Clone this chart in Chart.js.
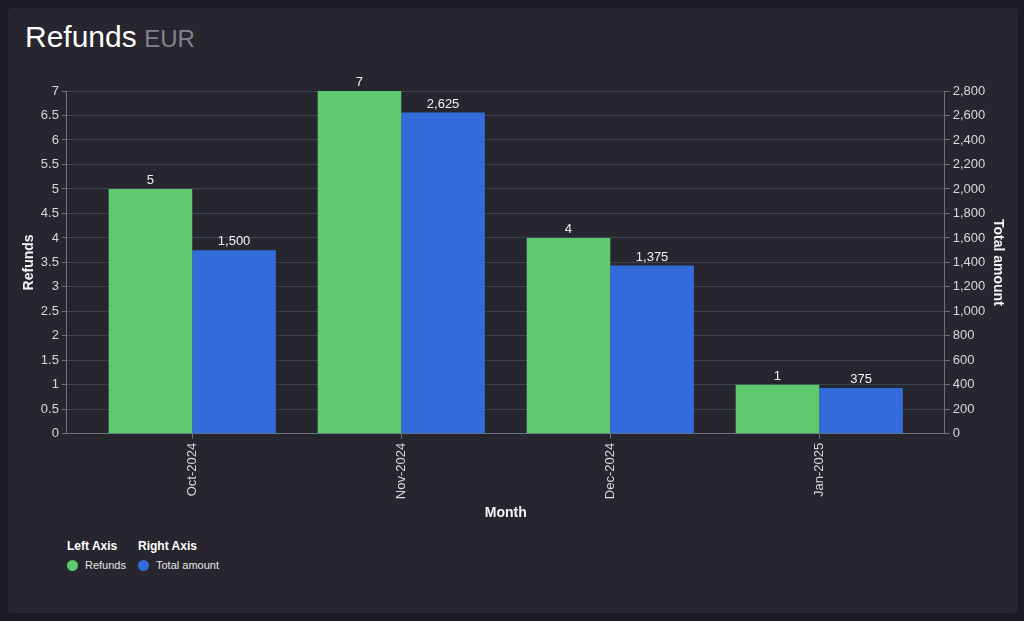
<!DOCTYPE html>
<html>
<head>
<meta charset="utf-8">
<script src="https://cdn.jsdelivr.net/npm/chart.js@4"></script>
<style>
  html, body { margin: 0; padding: 0; width: 1024px; height: 621px; background: #1c1b24; overflow: hidden; font-family: "Liberation Sans", Arial, sans-serif; }
  #panel { position: absolute; left: 8px; top: 8px; width: 1010px; height: 605px; background: #27262e; border-radius: 4px; }
  #title { position: absolute; left: 25px; top: 20px; white-space: nowrap; }
  #title .main { color: #ffffff; font-size: 30px; }
  #title .unit { color: #838389; font-size: 24px; margin-left: 3px; }
  #wrap { position: absolute; left: 0; top: 0; width: 1024px; height: 530px; }
  #legend { position: absolute; left: 67px; top: 539px; color: #ffffff; font-size: 12px; }
  .lg-col { position: absolute; top: 0; white-space: nowrap; }
  .lg-head { font-weight: bold; font-size: 12px; height: 16px; }
  .lg-item { margin-top: 4px; font-size: 11px; color: #e6e6e6; display: flex; align-items: center; }
  .dot { display: inline-block; width: 11px; height: 11px; border-radius: 50%; margin-right: 7px; }
</style>
</head>
<body>
<div id="panel"></div>
<div id="title"><span class="main">Refunds</span> <span class="unit">EUR</span></div>
<div id="wrap"><canvas id="c" width="1024" height="530"></canvas></div>
<div id="legend"></div>
<script>
const months = ["Oct-2024", "Nov-2024", "Dec-2024", "Jan-2025"];
const refunds = [5, 7, 4, 1];
const totalAmount = [1500, 2625, 1375, 375];
const seriesNames = ["Refunds", "Total amount"];
const seriesColors = ["#5ec96e", "#336bdb"];
const legendGroups = ["Left Axis", "Right Axis"];

// legend (HTML)
const legend = document.getElementById('legend');
const lgX = [0, 71];
legendGroups.forEach((g, i) => {
  const col = document.createElement('div');
  col.className = 'lg-col';
  col.style.left = lgX[i] + 'px';
  col.innerHTML = '<div class="lg-head">' + g + '</div>' +
    '<div class="lg-item"><span class="dot" style="background:' + seriesColors[i] + '"></span>' + seriesNames[i] + '</div>';
  legend.appendChild(col);
});

const fontFam = '"Liberation Sans", Arial, sans-serif';
const tickColor = '#d9d9d9';
const axisLine = '#6a7580';
const gridColor = '#3a464f';

const valueLabels = {
  id: 'valueLabels',
  afterDatasetsDraw(chart) {
    const ctx = chart.ctx;
    ctx.save();
    ctx.font = '13px ' + fontFam;
    ctx.fillStyle = '#f2f2f2';
    ctx.textAlign = 'center';
    ctx.textBaseline = 'bottom';
    chart.data.datasets.forEach((ds, di) => {
      const meta = chart.getDatasetMeta(di);
      meta.data.forEach((el, i) => {
        const v = ds.data[i].y;
        ctx.fillText(v.toLocaleString('en-US'), el.x, el.y - 2);
      });
    });
    ctx.restore();
  }
};

new Chart(document.getElementById('c'), {
  type: 'bar',
  data: {
    datasets: [
      {
        label: seriesNames[0],
        data: refunds.map((v, i) => ({ x: i, y: v })),
        backgroundColor: seriesColors[0],
        yAxisID: 'yL',
        categoryPercentage: 0.8,
        barPercentage: 1.0
      },
      {
        label: seriesNames[1],
        data: totalAmount.map((v, i) => ({ x: i, y: v })),
        backgroundColor: seriesColors[1],
        yAxisID: 'yR',
        categoryPercentage: 0.8,
        barPercentage: 1.0
      }
    ]
  },
  options: {
    responsive: false,
    animation: false,
    layout: { padding: { left: 11, right: 11, top: 91, bottom: 8 } },
    plugins: { legend: { display: false }, tooltip: { enabled: false } },
    scales: {
      x: {
        type: 'linear',
        offset: false,
        min: -0.6,
        max: 3.6,
        afterBuildTicks(scale) { scale.ticks = months.map((m, i) => ({ value: i })); },
        ticks: {
          autoSkip: false,
          maxRotation: 90,
          minRotation: 90,
          color: tickColor,
          font: { family: fontFam, size: 13 },
          padding: 4,
          callback: (v) => months[v] ?? ''
        },
        grid: { display: true, offset: false, drawOnChartArea: false, drawTicks: true, tickLength: 5, color: axisLine },
        border: { display: true, color: axisLine },
        title: { display: true, text: 'Month', color: '#f5f5f5', font: { family: fontFam, size: 14, weight: 'bold' }, padding: { top: 2, bottom: 0 } }
      },
      yL: {
        type: 'linear',
        position: 'left',
        min: 0,
        max: 7,
        ticks: { stepSize: 0.5, color: tickColor, font: { family: fontFam, size: 13 }, padding: 3,
          callback: (v) => String(v) },
        grid: { color: gridColor, tickLength: 5, tickColor: axisLine },
        border: { display: true, color: axisLine },
        title: { display: true, text: 'Refunds', color: '#f5f5f5', font: { family: fontFam, size: 14, weight: 'bold' }, padding: { top: 10, bottom: 0 } }
      },
      yR: {
        type: 'linear',
        position: 'right',
        min: 0,
        max: 2800,
        ticks: { stepSize: 200, color: tickColor, font: { family: fontFam, size: 13 }, padding: 3,
          callback: (v) => v.toLocaleString('en-US') },
        grid: { drawOnChartArea: false, tickLength: 5, color: axisLine },
        border: { display: true, color: axisLine },
        title: { display: true, text: 'Total amount', color: '#f5f5f5', font: { family: fontFam, size: 14, weight: 'bold' }, padding: { top: 7, bottom: 1 } }
      }
    }
  },
  plugins: [valueLabels]
});
</script>
</body>
</html>
